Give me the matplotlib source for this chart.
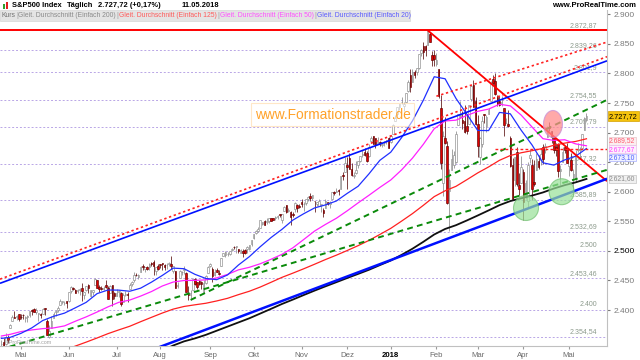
import numpy as np
import pandas as pd
import matplotlib
matplotlib.use("Agg")
import matplotlib.pyplot as plt
from matplotlib.patches import Ellipse, Rectangle
from matplotlib.transforms import blended_transform_factory

plt.rcParams['font.family'] = ['Liberation Sans', 'DejaVu Sans']

# ---------------- data ----------------
holidays = ["2017-05-29", "2017-07-04", "2017-09-04", "2017-11-23", "2017-12-25",
            "2018-01-01", "2018-01-15", "2018-02-19", "2018-03-30"]
dates = pd.bdate_range("2017-04-18", "2018-05-11")
dates = dates[~dates.isin(pd.to_datetime(holidays))]

opens = [
    2342, 2346, 2342, 2355, 2370, 2382, 2389, 2389, 2393,
    2389, 2392, 2387, 2389, 2392, 2400, 2401, 2397, 2394, 2394, 2393, 2404, 2382, 2355, 2370, 2387, 2397, 2400, 2409, 2414, 2411, 2415,
    2415, 2432, 2437, 2434, 2432, 2434, 2437, 2425, 2434, 2443, 2424, 2431, 2442, 2450, 2439, 2437, 2436, 2443, 2438, 2428, 2442, 2429,
    2424, 2430, 2428, 2413, 2426, 2427, 2435, 2444, 2450, 2460, 2455, 2464, 2475, 2469, 2473, 2472, 2479, 2481, 2466, 2475,
    2477, 2479, 2476, 2476, 2477, 2478, 2466, 2466, 2441, 2454, 2464, 2468, 2462, 2427, 2425, 2434, 2452, 2447, 2449, 2447, 2431, 2446, 2462,
    2475, 2470, 2459, 2467, 2462, 2474, 2492, 2493, 2494, 2495, 2502, 2507, 2506, 2503, 2497, 2500, 2501, 2503, 2503, 2511,
    2521, 2530, 2534, 2539, 2546, 2551, 2549, 2551, 2555, 2555, 2556, 2558, 2563, 2553, 2568, 2578, 2568, 2566, 2562, 2570, 2578, 2576,
    2583, 2579, 2581, 2588, 2592, 2590, 2585, 2580, 2576, 2577, 2569, 2572, 2583, 2579, 2588, 2599, 2600, 2603, 2605, 2628, 2634,
    2645, 2657, 2639, 2627, 2632, 2646, 2652, 2662, 2667, 2665, 2661, 2685, 2694, 2690, 2683, 2684, 2679, 2682, 2686, 2690,
    2684, 2698, 2719, 2731, 2743, 2751, 2745, 2752, 2770, 2798, 2785, 2802, 2802, 2809, 2835, 2846, 2846, 2848, 2867, 2832, 2832,
    2816, 2808, 2741, 2614, 2690, 2678, 2601, 2636, 2646, 2651, 2713, 2727, 2722, 2720, 2711, 2715, 2757, 2780, 2753,
    2715, 2658, 2681, 2731, 2711, 2731, 2753, 2790, 2787, 2760, 2754, 2748, 2741, 2716, 2715, 2691, 2646, 2620, 2667, 2611, 2614,
    2633, 2593, 2585, 2657, 2645, 2617, 2636, 2652, 2653, 2675, 2670, 2692, 2711, 2702, 2692, 2675, 2680, 2635, 2651, 2675, 2674,
    2643, 2654, 2625, 2621, 2671, 2671, 2674, 2705, 2722,
]
highs = [
    2349, 2352, 2361, 2357, 2377, 2392, 2398, 2392, 2393,
    2394, 2393, 2390, 2392, 2399, 2401, 2404, 2403, 2395, 2395, 2404, 2404, 2385, 2375, 2390, 2396, 2400, 2406, 2418, 2416, 2415, 2416,
    2430, 2440, 2439, 2435, 2436, 2438, 2446, 2431, 2441, 2444, 2433, 2434, 2454, 2450, 2442, 2441, 2441, 2451, 2440, 2442, 2442, 2430,
    2435, 2434, 2430, 2428, 2432, 2431, 2445, 2449, 2464, 2463, 2461, 2474, 2477, 2473, 2475, 2480, 2482, 2484, 2473, 2478,
    2478, 2480, 2477, 2480, 2481, 2491, 2474, 2466, 2448, 2468, 2466, 2475, 2465, 2440, 2433, 2454, 2454, 2448, 2451, 2449, 2450, 2460, 2475,
    2480, 2472, 2469, 2471, 2467, 2488, 2497, 2499, 2498, 2500, 2505, 2508, 2508, 2503, 2503, 2503, 2503, 2508, 2510, 2519,
    2529, 2535, 2541, 2552, 2549, 2552, 2555, 2555, 2556, 2556, 2559, 2560, 2563, 2563, 2576, 2578, 2572, 2567, 2565, 2582, 2580, 2579,
    2588, 2583, 2588, 2593, 2597, 2595, 2585, 2583, 2588, 2579, 2572, 2588, 2583, 2584, 2600, 2601, 2606, 2605, 2627, 2634, 2658,
    2658, 2665, 2648, 2634, 2652, 2652, 2661, 2670, 2674, 2669, 2680, 2695, 2694, 2691, 2693, 2686, 2682, 2685, 2688, 2693,
    2696, 2714, 2730, 2743, 2749, 2760, 2751, 2767, 2789, 2808, 2807, 2806, 2810, 2833, 2842, 2853, 2848, 2873, 2870, 2838, 2839,
    2835, 2808, 2763, 2702, 2727, 2685, 2638, 2672, 2669, 2702, 2732, 2754, 2737, 2747, 2731, 2747, 2780, 2789, 2761,
    2730, 2692, 2728, 2732, 2729, 2741, 2787, 2797, 2801, 2763, 2762, 2762, 2741, 2725, 2739, 2695, 2657, 2659, 2675, 2632, 2660,
    2638, 2619, 2650, 2673, 2656, 2653, 2665, 2662, 2674, 2680, 2683, 2711, 2718, 2703, 2694, 2683, 2683, 2645, 2676, 2677, 2683,
    2655, 2665, 2638, 2670, 2683, 2676, 2698, 2726, 2733,
]
lows = [
    2335, 2335, 2340, 2344, 2370, 2381, 2386, 2383, 2382,
    2384, 2385, 2380, 2380, 2389, 2391, 2396, 2394, 2381, 2387, 2393, 2392, 2357, 2352, 2370, 2386, 2390, 2396, 2408, 2410, 2409, 2403,
    2413, 2428, 2434, 2428, 2428, 2426, 2416, 2419, 2432, 2428, 2422, 2425, 2442, 2437, 2430, 2433, 2433, 2437, 2419, 2428, 2406, 2418,
    2424, 2422, 2407, 2413, 2424, 2413, 2435, 2441, 2448, 2457, 2453, 2464, 2467, 2465, 2467, 2468, 2474, 2460, 2459, 2468,
    2471, 2467, 2468, 2469, 2475, 2470, 2462, 2438, 2437, 2454, 2459, 2461, 2430, 2417, 2417, 2434, 2442, 2436, 2442, 2436, 2428, 2444, 2462,
    2473, 2447, 2458, 2464, 2459, 2474, 2492, 2490, 2491, 2493, 2499, 2503, 2496, 2496, 2496, 2489, 2495, 2497, 2502, 2508,
    2520, 2528, 2532, 2539, 2543, 2543, 2545, 2547, 2550, 2552, 2552, 2554, 2557, 2547, 2567, 2564, 2566, 2544, 2557, 2566, 2566, 2573,
    2574, 2567, 2577, 2585, 2585, 2586, 2566, 2576, 2576, 2565, 2557, 2572, 2578, 2573, 2587, 2594, 2599, 2594, 2605, 2620, 2634,
    2605, 2639, 2627, 2624, 2630, 2640, 2650, 2659, 2661, 2651, 2658, 2685, 2680, 2674, 2680, 2678, 2675, 2678, 2680, 2674,
    2683, 2698, 2719, 2728, 2738, 2748, 2736, 2752, 2769, 2768, 2785, 2792, 2797, 2808, 2830, 2824, 2830, 2848, 2853, 2813, 2813,
    2812, 2759, 2639, 2593, 2681, 2580, 2533, 2636, 2640, 2648, 2713, 2725, 2706, 2699, 2698, 2714, 2753, 2744, 2713,
    2659, 2647, 2675, 2716, 2701, 2731, 2753, 2781, 2763, 2745, 2745, 2745, 2694, 2716, 2709, 2641, 2588, 2610, 2610, 2594, 2614,
    2553, 2587, 2574, 2649, 2586, 2610, 2636, 2639, 2645, 2647, 2665, 2692, 2702, 2682, 2665, 2661, 2625, 2612, 2651, 2666, 2648,
    2626, 2635, 2594, 2616, 2667, 2655, 2674, 2705, 2720,
]
closes = [
    2342, 2338, 2355, 2349, 2374, 2388, 2387, 2389, 2384,
    2388, 2391, 2388, 2389, 2399, 2399, 2397, 2400, 2394, 2391, 2402, 2401, 2357, 2365, 2382, 2394, 2398, 2404, 2415, 2416, 2412, 2412,
    2430, 2439, 2436, 2429, 2433, 2434, 2432, 2430, 2440, 2437, 2433, 2433, 2453, 2437, 2436, 2435, 2438, 2439, 2419, 2440, 2419, 2423,
    2429, 2432, 2410, 2425, 2427, 2425, 2443, 2447, 2459, 2459, 2460, 2473, 2473, 2472, 2470, 2477, 2478, 2475, 2472, 2470,
    2476, 2478, 2472, 2476, 2480, 2474, 2474, 2438, 2441, 2466, 2465, 2468, 2430, 2426, 2428, 2453, 2444, 2439, 2444, 2444, 2446, 2457, 2472,
    2477, 2457, 2465, 2465, 2461, 2488, 2496, 2498, 2495, 2500, 2503, 2506, 2508, 2500, 2502, 2497, 2497, 2507, 2510, 2519,
    2529, 2534, 2537, 2552, 2549, 2544, 2551, 2555, 2551, 2553, 2558, 2559, 2561, 2562, 2575, 2565, 2569, 2557, 2560, 2581, 2572, 2575,
    2579, 2580, 2587, 2591, 2590, 2594, 2584, 2582, 2584, 2579, 2564, 2585, 2579, 2582, 2599, 2597, 2602, 2601, 2627, 2626, 2648,
    2642, 2639, 2629, 2629, 2637, 2652, 2660, 2664, 2662, 2652, 2676, 2690, 2681, 2679, 2684, 2683, 2680, 2682, 2688, 2674,
    2695, 2713, 2724, 2743, 2748, 2751, 2748, 2767, 2786, 2777, 2803, 2798, 2810, 2833, 2839, 2837, 2839, 2873, 2853, 2822, 2824,
    2822, 2762, 2649, 2695, 2682, 2581, 2620, 2656, 2662, 2698, 2731, 2732, 2716, 2701, 2703, 2747, 2779, 2744, 2714,
    2678, 2691, 2720, 2729, 2727, 2739, 2786, 2783, 2766, 2749, 2747, 2752, 2712, 2717, 2711, 2643, 2588, 2658, 2613, 2605, 2641,
    2582, 2614, 2645, 2662, 2604, 2613, 2656, 2642, 2664, 2656, 2678, 2707, 2708, 2693, 2670, 2670, 2635, 2639, 2667, 2670, 2648,
    2655, 2636, 2630, 2663, 2673, 2672, 2697, 2724, 2728,
]

# moving averages, one value per trading week
ma20 = [2352, 2353.7, 2360.5, 2369.8, 2382.2, 2389.3, 2394.7, 2403.7, 2413, 2427.7, 2433.8, 2433.6, 2431.7,
        2436.9, 2447.1, 2458.5, 2470.8, 2469.8, 2460.3, 2453.3, 2451.3, 2459.3, 2476.1, 2490.2, 2507, 2522.6,
        2536.4, 2552, 2562.8, 2572.6, 2577.7, 2584.3, 2597.2, 2609.2, 2630.2, 2653.1, 2666.8, 2691.5, 2719.8,
        2754.8, 2794.4, 2791, 2757.8, 2731.1, 2703.6, 2703.4, 2734.1, 2731.7, 2703.9, 2678.9, 2648.9, 2645,
        2653.8, 2660, 2673.1]
ma50 = [2356, 2358.8, 2363.5, 2366.3, 2368.5, 2369.7, 2373.1, 2381, 2388.4, 2396.6, 2405.3, 2413, 2416.8,
        2423.5, 2431.2, 2440.6, 2447.3, 2449.9, 2450.1, 2450.9, 2454.3, 2460.2, 2467.9, 2472.2, 2478.2, 2485.8,
        2494.1, 2505.1, 2519.2, 2533.5, 2544.7, 2555.1, 2567.7, 2581.1, 2594, 2607.3, 2619.8, 2636.9, 2656.8,
        2680.2, 2706.5, 2719.6, 2721, 2729, 2735.9, 2739.7, 2747.9, 2745.1, 2729.5, 2709.3, 2689.7, 2686.7,
        2687.9, 2680.9, 2677.67]
ma125 = [np.nan] * 5 + [
        2323.3, 2331.8, 2339, 2345.7, 2352.7, 2360, 2366.4, 2372.5, 2380.2, 2387.6, 2394.9, 2401.5, 2406,
        2408.8, 2411.4, 2415.3, 2419.8, 2426, 2431.7, 2438.8, 2446.9, 2455.2, 2462.3, 2469.7, 2477.4, 2485.3,
        2492.7, 2500.6, 2508.8, 2517.7, 2527.7, 2538, 2550.3, 2563, 2577, 2591.7, 2601.6, 2609.1, 2620.3,
        2631.8, 2641.9, 2653.1, 2661.2, 2665.9, 2669.4, 2673.3, 2678.6, 2682.2, 2685, 2689.52]
ma200 = [np.nan] * 15 + [
        2331.4, 2340, 2347, 2352, 2358, 2365, 2372, 2379, 2386, 2394, 2402, 2410.2, 2417.6, 2425.3, 2432.8,
        2440, 2447, 2454.1, 2461, 2468, 2475.9, 2483.6, 2493.2, 2503.6, 2515.3, 2527.7, 2537, 2543.4, 2551.4,
        2559.8, 2568.4, 2577.3, 2584.2, 2588.9, 2593.5, 2598.8, 2605.4, 2611.1, 2615.8, 2621.6]

levels = [2872.87, 2839.26, 2801.9, 2754.55, 2709.79, 2647.32, 2585.89, 2532.69, 2500, 2453.46, 2400, 2354.54]
level_dec = [2, 2, 1, 2, 2, 2, 2, 2, 0, 2, 0, 2]

month_names = ["Mai", "Jun", "Jul", "Aug", "Sep", "Okt", "Nov", "Dez", "2018", "Feb", "Mar", "Apr", "Mai"]

# trendlines drawn on the chart: (start date, price, end date, price, extend left)
trend_lines = {
    "down":     ("2018-01-26", 2872.87, "2018-05-11", 2647.0, False),
    "support":  ("2017-07-28", 2335.0, "2018-05-11", 2608.9, True),
    "chan_up":  ("2017-04-18", 2446.0, "2018-05-11", 2808.6, True),
    "red_par":  ("2017-04-18", 2453.0, "2018-05-11", 2815.6, True),
    "red_up":   ("2018-02-01", 2761.5, "2018-05-11", 2842.0, False),
    "green_1":  ("2017-08-21", 2417.0, "2018-05-11", 2738.6, False),
    "green_2":  ("2017-04-18", 2333.9, "2018-05-11", 2626.7, True),
}
hline_red_dash = ("2018-03-13", 2672.0)

# marked zones (centre date index, centre price, width in days, height in points)
pink_zone = (253.6, 2714.5, 8.7, 45.7)
green_zones = [(241.2, 2572.5, 11.5, 42.3), (257.6, 2600.0, 11.5, 43.9)]

last_price = 2727.72
tags = [(2689.52, '#ff5a6e', '#fbeef0', '#e8c4c8'),
        (2677.67, '#ff40ff', '#fdf0fd', '#e8c0e8'),
        (2673.10, '#4a5cff', '#f0f2ff', '#a8b0ff'),
        (2621.60, '#8a8a8a', '#f0f0f0', '#c4c4c4')]

# ---------------- figure ----------------
W, H = 640, 360
fig = plt.figure(figsize=(6.4, 3.6), dpi=100)
fig.patch.set_facecolor('white')
ax = fig.add_axes([0, 14 / H, 607 / W, 338 / H])
XL, XR = -0.64, 278.44
YB, YT = 2339.13, 2910.65
ax.set_xlim(XL, XR)
ax.set_ylim(YB, YT)


def de(v, dec):
    s = f"{v:,.{dec}f}"
    return s.replace(',', 'X').replace('.', ',').replace('X', '.')


n = len(closes)
x = np.arange(n)
o = np.array(opens, float)
c = np.array(closes, float)
h = np.array(highs, float)
l = np.array(lows, float)
up = c >= o
bot = np.minimum(o, c)
bh = np.maximum(np.abs(c - o), 0.9)

# level lines
for lv, dc in zip(levels, level_dec):
    ax.axhline(lv, color='#b9a6e6', lw=0.7, dashes=(2, 2), zorder=1)
    ax.annotate(de(lv, dc), xy=(597 / 607, lv), xycoords=blended_transform_factory(ax.transAxes, ax.transData),
                xytext=(0, 1.2), textcoords='offset points', ha='right', va='bottom',
                fontsize=5.0, color='#8c9a8c', zorder=1.5)

# candles
ax.vlines(x[up], l[up], h[up], color='#8a8a8a', lw=0.55, zorder=2)
ax.vlines(x[~up], l[~up], h[~up], color='#5a1010', lw=0.55, zorder=2)
ax.bar(x[up], bh[up], bottom=bot[up], width=0.72, color='white', edgecolor='#8a8a8a', lw=0.45, zorder=2.1)
ax.bar(x[~up], bh[~up], bottom=bot[~up], width=0.72, color='#e00000', edgecolor='#600000', lw=0.45, zorder=2.1)

# moving averages
ma_pos = [0] + list(range(4, n, 5))
ax.plot(ma_pos, ma200, color='#101010', lw=1.3, zorder=3)
ax.plot(ma_pos, ma125, color='#ff2020', lw=0.9, zorder=3)
ax.plot(ma_pos, ma50, color='#ff20ff', lw=0.9, zorder=3)
ax.plot(ma_pos, ma20, color='#2030ff', lw=0.9, zorder=3)


def idx_of(d):
    return dates.get_loc(pd.Timestamp(d))


styles = {
    "down": dict(color='#ff0000', lw=1.3),
    "support": dict(color='#0010ff', lw=1.8),
    "chan_up": dict(color='#0010ff', lw=1.2),
    "red_par": dict(color='#ff2020', lw=1.2, linestyle=(0, (1.4, 1.6))),
    "red_up": dict(color='#ff2020', lw=1.2, linestyle=(0, (1.4, 1.6))),
    "green_1": dict(color='#0a8a0a', lw=1.4, linestyle=(0, (3, 2.2))),
    "green_2": dict(color='#0a8a0a', lw=1.4, linestyle=(0, (3, 2.2))),
}
for key, (d0, p0, d1, p1, ext) in trend_lines.items():
    i0, i1 = idx_of(d0), idx_of(d1)
    slope = (p1 - p0) / (i1 - i0)
    xs = np.array([XL if ext else i0, XR])
    ax.plot(xs, p0 + slope * (xs - i0), zorder=4, solid_capstyle='butt', **styles[key])

ax.axhline(2872.87, color='#ff0000', lw=1.4, zorder=4)
ax.plot([idx_of(hline_red_dash[0]), XR], [hline_red_dash[1]] * 2, color='#ff2020', lw=1.0,
        linestyle=(0, (2, 1.6)), zorder=4)

# zones
cx, cy, w, hh = pink_zone
ax.add_patch(Ellipse((cx, cy), w, hh, facecolor='#ff8c8c', alpha=0.75, edgecolor='#c890d8', lw=0.8, zorder=5))
for cx, cy, w, hh in green_zones:
    ax.add_patch(Ellipse((cx, cy), w, hh, facecolor='#98e098', alpha=0.7, edgecolor='#70c070', lw=0.8, zorder=5))

# axes styling
for s in ['top', 'left']:
    ax.spines[s].set_visible(False)
for s in ['right', 'bottom']:
    ax.spines[s].set_color('#c0c0c0')
    ax.spines[s].set_linewidth(0.8)

ax.yaxis.tick_right()
yt = list(range(2400, 2901, 50))
ax.set_yticks(yt)
ax.set_yticklabels([de(v, 0) for v in yt])
ax.tick_params(axis='y', labelsize=6.0, colors='#7a7a7a', length=2.5, pad=2)
for lab in ax.get_yticklabels():
    if lab.get_text() == '2.500':
        lab.set_color('black')

ser = pd.Series(np.arange(n), index=dates)
firsts = ser.groupby(dates.to_period('M')).first().values[1:]
ax.set_xticks(firsts)
ax.set_xticklabels(month_names)
ax.tick_params(axis='x', labelsize=5.6, colors='#9a9a9a', labelcolor='#6a6a6a', length=2.5, pad=1.5)
for lab in ax.get_xticklabels():
    if lab.get_text() == '2018':
        lab.set_color('black')
        lab.set_fontweight('bold')

# right price tags (stacked so they do not collide with each other or the 2.700 tick)
bt = blended_transform_factory(fig.transFigure, ax.transData)
ax.text(609 / W, last_price, de(last_price, 2), transform=bt, fontsize=5.3, color='black', va='center',
        ha='left', clip_on=False, zorder=8,
        bbox=dict(boxstyle='square,pad=0.2', facecolor='#f4c20d', edgecolor='#d4a000', lw=0.5))
prev = 2700.0
for val, tc, fc, ec in tags:
    pos = min(val, prev - 14.0)
    prev = pos
    ax.text(609 / W, pos, de(val, 2), transform=bt, fontsize=4.9, color=tc, va='center', ha='left',
            clip_on=False, zorder=8,
            bbox=dict(boxstyle='square,pad=0.05', facecolor=fc, edgecolor=ec, lw=0.5))

# watermark box
fig.patches.append(Rectangle((251 / W, 1 - 126 / H), 163 / W, 23 / H, transform=fig.transFigure,
                             facecolor='white', alpha=0.55, edgecolor='#ffd49a', lw=0.8, zorder=6))
fig.text(332.5 / W, 1 - 115 / H, "www.Formationstrader.de", fontsize=9.9, color='#ffa22a',
         ha='center', va='center', zorder=7)
fig.text(6 / W, 1 - 343 / H, "©ProRealTime.com", fontsize=3.8, color='#a0a0a0', va='center', zorder=7)

# header
fig.patches.append(Rectangle((0, 1 - 10 / H), 1, 10 / H, transform=fig.transFigure,
                             facecolor='white', edgecolor='none', zorder=5))
fig.patches.append(Rectangle((2.5 / W, 1 - 8.5 / H), 2 / W, 5 / H, transform=fig.transFigure,
                             facecolor='#2ea02e', edgecolor='none', zorder=6))
fig.patches.append(Rectangle((5.5 / W, 1 - 9 / H), 2 / W, 7 / H, transform=fig.transFigure,
                             facecolor='#e02020', edgecolor='none', zorder=6))
hy = 1 - 5.3 / H
for txt, xp in [("S&P500 Index", 12), ("Täglich", 67), ("2.727,72 (+0,17%)", 98), ("11.05.2018", 182)]:
    fig.text(xp / W, hy, txt, fontsize=5.4, fontweight='bold', color='black', va='center', zorder=7)
fig.text(636 / W, hy, "www.ProRealTime.com", fontsize=5.5, fontweight='bold', color='black',
         va='center', ha='right', zorder=7)

# legend strip
fig.patches.append(Rectangle((0, 1 - 21 / H), 410 / W, 10.5 / H, transform=fig.transFigure,
                             facecolor='#e4e4e4', edgecolor='#d0d0d0', lw=0.4, zorder=5))
fig.canvas.draw()
rend = fig.canvas.get_renderer()
items = [("Kurs", '#707070'), ("|", '#a0a0a0'),
         ("Gleit. Durchschnitt (Einfach 200)", '#8a8a8a'), ("|", '#a0a0a0'),
         ("Gleit. Durchschnitt (Einfach 125)", '#ff5a5a'), ("|", '#a0a0a0'),
         ("Gleit. Durchschnitt (Einfach 50)", '#ff50ff'), ("|", '#a0a0a0'),
         ("Gleit. Durchschnitt (Einfach 20)", '#5a5aff')]
xp = 1.5
ly = 1 - 15.8 / H
for txt, col in items:
    t = fig.text(xp / W, ly, txt, fontsize=4.9, color=col, va='center', zorder=7)
    bb = t.get_window_extent(renderer=rend)
    xp = bb.x1 + 0.6

fig.savefig("out.png", dpi=100)
